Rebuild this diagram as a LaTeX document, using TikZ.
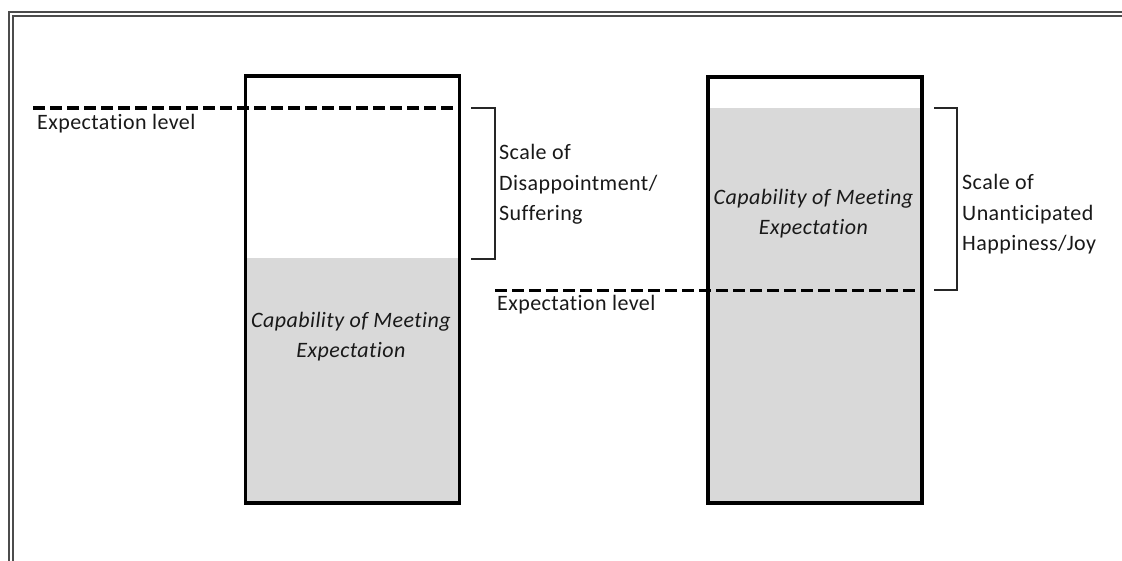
\documentclass[tikz,border=0pt]{standalone}
\usepackage{fontspec}
\setmainfont[Ligatures=NoCommon,LetterSpace=2]{Carlito}
\begin{document}
\begin{tikzpicture}[x=1pt,y=-1pt,
  txt/.style={inner sep=0pt, text=black!90, font=\fontsize{22}{31}\selectfont},
  itxt/.style={txt, font=\fontsize{22}{31}\selectfont\itshape},
  boxline/.style={line width=3.5pt, draw=black},
  lvl/.style={line width=3.2pt, dash pattern=on 12pt off 5pt, draw=black},
  brk/.style={line width=1.3pt, draw=black!85},
  framel/.style={line width=1.5pt, draw=black!70}]
\useasboundingbox (0,0) rectangle (1122,561);
% frame
\draw[framel] (9,561) -- (9,12) -- (1122,12);
\draw[framel] (13,561) -- (13,16) -- (1122,16);
% left box
\fill[fill=black!15] (245.5,258) rectangle (459.5,503);
\node[draw=none, inner sep=0pt, minimum width=214pt, minimum height=427pt] (boxA) at (352.5,289.5) {};
\draw[boxline] (245.5,76) rectangle (459.5,503);
% right box
\fill[fill=black!15] (708,108) rectangle (922,503);
\node[draw=none, inner sep=0pt, minimum width=214pt, minimum height=426pt] (boxB) at (815,290) {};
\draw[boxline] (708,77) rectangle (922,503);
% expectation levels
\coordinate (e1s) at (33,108);
\coordinate (e1e) at (460,108);
\draw[lvl] (e1s) -- (e1e);
\coordinate (e2s) at (495,290.5);
\coordinate (e2e) at (922,290.5);
\draw[lvl] (e2s) -- (e2e);
\node[txt, anchor=base west] (lvlA) at (37,130) {Expectation level};
\node[txt, anchor=base west] (lvlB) at (497,311) {Expectation level};
% brackets
\coordinate (b1a) at (471,108);
\coordinate (b1b) at (495,108);
\coordinate (b1c) at (495,259);
\coordinate (b1d) at (471,259);
\draw[brk] (b1a) -- (b1b) -- (b1c) -- (b1d);
\coordinate (b2a) at (934,108);
\coordinate (b2b) at (957,108);
\coordinate (b2c) at (957,290);
\coordinate (b2d) at (934,290);
\draw[brk] (b2a) -- (b2b) -- (b2c) -- (b2d);
% bracket labels
\node[txt, anchor=base west] (sA1) at (499,160) {Scale of};
\node[txt, anchor=base west] (sA2) at (499,191) {Disappointment/};
\node[txt, anchor=base west] (sA3) at (499,221) {Suffering};
\node[txt, anchor=base west] (sB1) at (962,190) {Scale of};
\node[txt, anchor=base west] (sB2) at (962,221) {Unanticipated};
\node[txt, anchor=base west] (sB3) at (962,251) {Happiness/Joy};
% box labels
\node[itxt, anchor=base] (cA1) at (351,328) {Capability of Meeting};
\node[itxt, anchor=base] (cA2) at (351,358) {Expectation};
\node[itxt, anchor=base] (cB1) at (813.5,205) {Capability of Meeting};
\node[itxt, anchor=base] (cB2) at (813.5,235) {Expectation};
\end{tikzpicture}
\end{document}
